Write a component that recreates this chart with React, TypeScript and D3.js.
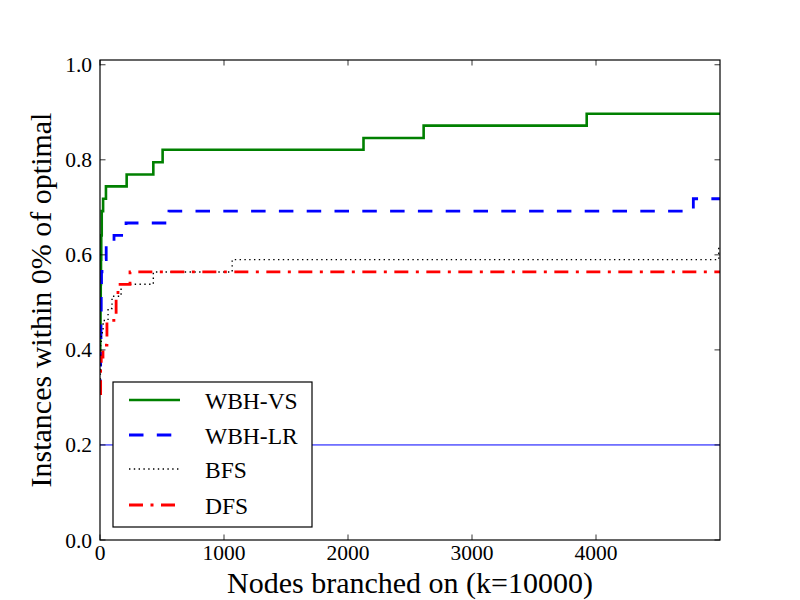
import React from "react";
import * as d3 from "d3";

// Step data: x = nodes branched on, y = fraction of instances within 0% of optimal
const vsX = [0, 2, 4, 6, 8, 10, 14, 25, 48, 215, 430, 505, 2125, 2610, 3925, 5000];
const vsY = [0.385, 0.436, 0.487, 0.538, 0.59, 0.641, 0.692, 0.718, 0.744, 0.769, 0.795, 0.821, 0.846, 0.872, 0.897, 0.897];

const lrX = [0, 3, 5, 8, 10, 12, 16, 50, 113, 210, 556, 4785, 5000];
const lrY = [0.308, 0.359, 0.41, 0.462, 0.513, 0.564, 0.59, 0.615, 0.641, 0.667, 0.692, 0.718, 0.718];

const bfsX = [0, 3, 6, 10, 25, 65, 97, 170, 430, 1066, 4990, 5000];
const bfsY = [0.308, 0.359, 0.41, 0.436, 0.462, 0.487, 0.513, 0.538, 0.564, 0.59, 0.615, 0.615];

const dfsX = [0, 5, 10, 24, 56, 130, 145, 242, 5000];
const dfsY = [0.308, 0.359, 0.385, 0.41, 0.462, 0.513, 0.538, 0.564, 0.564];

const refLineY = 0.2;

const xTicks = [0, 1000, 2000, 3000, 4000];
const yTicks = [0, 0.2, 0.4, 0.6, 0.8, 1.0];

const seriesNames = ["WBH-VS", "WBH-LR", "BFS", "DFS"];

const W = 800;
const H = 600;
const L = 100, R = 720, T = 60, B = 540;
const FONT = '"Liberation Serif", "Times New Roman", "DejaVu Serif", serif';
const fontStyle = { fontFamily: FONT };

const styles = [
  { color: "#008000", width: 2.6, dash: "" },
  { color: "#0000ff", width: 2.8, dash: "14.5,13.3" },
  { color: "#000000", width: 1.4, dash: "1.4,3.4" },
  { color: "#ff0000", width: 2.8, dash: "14,7.5,3,7.5" },
];

export default function App() {
  const x = d3.scaleLinear().domain([0, 5000]).range([L, R]);
  const y = d3.scaleLinear().domain([0, 1.01]).range([B, T]);

  const line = d3
    .line<[number, number]>()
    .x((d) => x(d[0]))
    .y((d) => y(d[1]))
    .curve(d3.curveStepAfter);

  const data: [number, number][][] = [
    vsX.map((v, i) => [v, vsY[i]]),
    lrX.map((v, i) => [v, lrY[i]]),
    bfsX.map((v, i) => [v, bfsY[i]]),
    dfsX.map((v, i) => [v, dfsY[i]]),
  ];

  const tickLen = 5.5;
  const legX = 113, legY = 382, legW = 199, legH = 145;
  const rowY = [400, 435, 469, 505];

  return (
    <svg width={W} height={H} style={{ position: "absolute", left: 0, top: 0, background: "#fff", ...fontStyle }}>
      <rect x={0} y={0} width={W} height={H} fill="#fff" />
      <defs>
        <clipPath id="plot">
          <rect x={L} y={T} width={R - L} height={B - T} />
        </clipPath>
      </defs>
      <g clipPath="url(#plot)">
        <line x1={x(0)} x2={x(5000)} y1={y(refLineY)} y2={y(refLineY)} stroke="#0000ff" strokeWidth={1} />
        {data.map((d, i) => (
          <path
            key={i}
            d={line(d) || ""}
            fill="none"
            stroke={styles[i].color}
            strokeWidth={styles[i].width}
            strokeDasharray={styles[i].dash || undefined}
          />
        ))}
      </g>
      {/* frame */}
      <rect x={L} y={T} width={R - L} height={B - T} fill="none" stroke="#000" strokeWidth={1.2} />
      {/* x ticks */}
      {xTicks.map((t) => (
        <g key={"xt" + t}>
          <line x1={x(t)} x2={x(t)} y1={B} y2={B - tickLen} stroke="#000" strokeWidth={0.8} />
          <line x1={x(t)} x2={x(t)} y1={T} y2={T + tickLen} stroke="#000" strokeWidth={0.8} />
          <text x={x(t)} y={560} textAnchor="middle" style={fontStyle} fontSize={21.5}>
            {t}
          </text>
        </g>
      ))}
      {/* y ticks */}
      {yTicks.map((t) => (
        <g key={"yt" + t}>
          <line x1={L} x2={L + tickLen} y1={y(t)} y2={y(t)} stroke="#000" strokeWidth={0.8} />
          <line x1={R} x2={R - tickLen} y1={y(t)} y2={y(t)} stroke="#000" strokeWidth={0.8} />
          <text x={92} y={y(t) + 7.5} textAnchor="end" style={fontStyle} fontSize={21.5}>
            {t.toFixed(1)}
          </text>
        </g>
      ))}
      {/* axis labels */}
      <text x={(L + R) / 2} y={592.5} textAnchor="middle" style={fontStyle} fontSize={30}>
        Nodes branched on (k=10000)
      </text>
      <text
        transform={`translate(51, ${(T + B) / 2}) rotate(-90)`}
        textAnchor="middle"
        style={fontStyle}
        fontSize={30}
      >
        Instances within 0% of optimal
      </text>
      {/* legend */}
      <rect x={legX} y={legY} width={legW} height={legH} fill="#fff" stroke="#000" strokeWidth={1.2} />
      {seriesNames.map((name, i) => (
        <g key={name}>
          <line
            x1={129}
            x2={180}
            y1={rowY[i]}
            y2={rowY[i]}
            stroke={styles[i].color}
            strokeWidth={styles[i].width}
            strokeDasharray={styles[i].dash || undefined}
          />
          <text x={205} y={rowY[i] + 8.5} style={fontStyle} fontSize={23.5}>
            {name}
          </text>
        </g>
      ))}
    </svg>
  );
}
